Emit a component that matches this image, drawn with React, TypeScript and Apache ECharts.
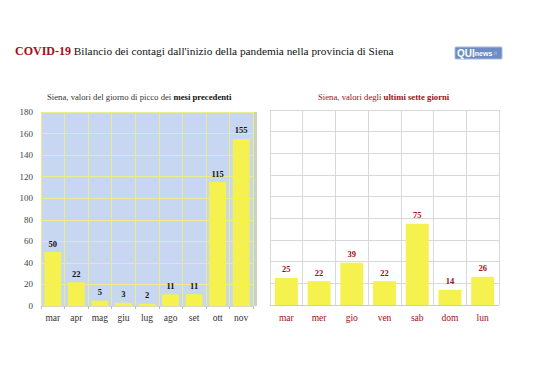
import React, { useEffect, useRef } from "react";
import * as echarts from "echarts";

const monthCategories = ["mar", "apr", "mag", "giu", "lug", "ago", "set", "ott", "nov"];
const monthValues = [50, 22, 5, 3, 2, 11, 11, 115, 155];
const dayCategories = ["mar", "mer", "gio", "ven", "sab", "dom", "lun"];
const dayValues = [25, 22, 39, 22, 75, 14, 26];
const yMin = 0;
const yMax = 180;
const yInterval = 20;

const SERIF = "Liberation Serif";
const SANS = "Liberation Sans";
const DARK_RED = "#a50d12";
const YELLOW = "#f5f14e";

export default function App() {
  const ref = useRef<HTMLDivElement>(null);
  useEffect(() => {
    if (!ref.current) return;
    const chart = echarts.init(ref.current, undefined, { renderer: "svg" });
    chart.setOption({
      animation: false,
      backgroundColor: "#ffffff",
      textStyle: { fontFamily: SERIF },
      grid: [
        { left: 41, right: 285, top: 112, bottom: 74, show: true, backgroundColor: "#c7d6f1", borderWidth: 0 },
        { left: 270, right: 39, top: 110, bottom: 75, show: true, backgroundColor: "#ffffff", borderWidth: 0 },
      ],
      graphic: [
        {
          type: "text",
          left: 15,
          top: 45,
          style: {
            text: "{r|COVID-19} {b|Bilancio dei contagi dall'inizio della pandemia nella provincia di Siena}",
            fontFamily: SERIF,
            fontSize: 11.3,
            fill: "#111111",
            rich: {
              r: { fontFamily: SERIF, fontSize: 12, fontWeight: "bold", fill: DARK_RED },
              b: { fontFamily: SERIF, fontSize: 11.3, fill: "#111111" },
            },
          },
        },
        {
          type: "text",
          left: 47,
          top: 92,
          style: {
            text: "{n|Siena, valori del giorno di picco dei }{b|mesi precedenti}",
            fontFamily: SERIF,
            fontSize: 8.7,
            rich: {
              n: { fontFamily: SERIF, fontSize: 8.7, fill: "#333333" },
              b: { fontFamily: SERIF, fontSize: 8.7, fontWeight: "bold", fill: "#111111" },
            },
          },
        },
        {
          type: "text",
          left: 318,
          top: 92,
          style: {
            text: "{n|Siena, valori degli }{b|ultimi sette giorni}",
            fontFamily: SERIF,
            fontSize: 8.7,
            rich: {
              n: { fontFamily: SERIF, fontSize: 8.7, fill: DARK_RED },
              b: { fontFamily: SERIF, fontSize: 8.7, fontWeight: "bold", fill: DARK_RED },
            },
          },
        },
        {
          type: "rect",
          shape: { x: 253, y: 112, width: 4, height: 194 },
          style: { fill: "#cbd3b8" },
        },
        {
          type: "rect",
          shape: { x: 455, y: 47, width: 47, height: 12, r: 1 },
          style: { fill: "#6d8dc2", stroke: "#a9bcdc", lineWidth: 1 },
        },
        {
          type: "text",
          left: 457,
          top: 48,
          style: {
            text: "{q|QUI}{n|news}{i|.it}",
            fontFamily: SANS,
            rich: {
              q: { fontFamily: SANS, fontSize: 10, fontWeight: "bold", fill: "#ffffff" },
              n: { fontFamily: SANS, fontSize: 7, fontWeight: "bold", fill: "#ffffff" },
              i: { fontFamily: SANS, fontSize: 6, fill: "#b8c8e4" },
            },
          },
        },
      ],
      xAxis: [
        {
          type: "category",
          gridIndex: 0,
          data: monthCategories,
          axisLine: { show: true, lineStyle: { color: "#d6dcc0", width: 1 } },
          axisTick: { show: true, length: 3, lineStyle: { color: "#bbbbbb" } },
          axisLabel: { color: "#333333", fontFamily: SERIF, fontSize: 9.5, margin: 7 },
          splitLine: { show: true, lineStyle: { color: "#ecec8a", width: 1 } },
        },
        {
          type: "category",
          gridIndex: 1,
          data: dayCategories,
          axisLine: { show: true, lineStyle: { color: "#cccccc", width: 1 } },
          axisTick: { show: false },
          axisLabel: { color: DARK_RED, fontFamily: SERIF, fontSize: 9.5, margin: 8 },
          splitLine: { show: true, lineStyle: { color: "#d8d8d8", width: 1 } },
        },
      ],
      yAxis: [
        {
          type: "value",
          gridIndex: 0,
          min: yMin,
          max: yMax,
          interval: yInterval,
          axisLine: { show: false },
          axisTick: { show: false },
          axisLabel: { color: "#444444", fontFamily: SERIF, fontSize: 9, margin: 8 },
          splitLine: { show: true, lineStyle: { color: "#ecec8a", width: 1 } },
        },
        {
          type: "value",
          gridIndex: 1,
          min: yMin,
          max: yMax,
          interval: yInterval,
          axisLine: { show: false },
          axisTick: { show: false },
          axisLabel: { show: false },
          splitLine: { show: true, lineStyle: { color: "#d8d8d8", width: 1 } },
        },
      ],
      series: [
        {
          type: "bar",
          xAxisIndex: 0,
          yAxisIndex: 0,
          data: monthValues,
          barWidth: "72%",
          itemStyle: { color: YELLOW },
          label: {
            show: true,
            position: "top",
            distance: 4,
            color: "#111111",
            fontFamily: SERIF,
            fontSize: 8.5,
            fontWeight: "bold",
          },
        },
        {
          type: "bar",
          xAxisIndex: 1,
          yAxisIndex: 1,
          data: dayValues,
          barWidth: "70%",
          itemStyle: { color: YELLOW },
          label: {
            show: true,
            position: "top",
            distance: 4,
            color: DARK_RED,
            fontFamily: SERIF,
            fontSize: 8.5,
            fontWeight: "bold",
          },
        },
      ],
    });
    return () => chart.dispose();
  }, []);
  return (
    <div
      ref={ref}
      style={{ position: "fixed", left: 0, top: 0, width: 538, height: 380 }}
    />
  );
}
